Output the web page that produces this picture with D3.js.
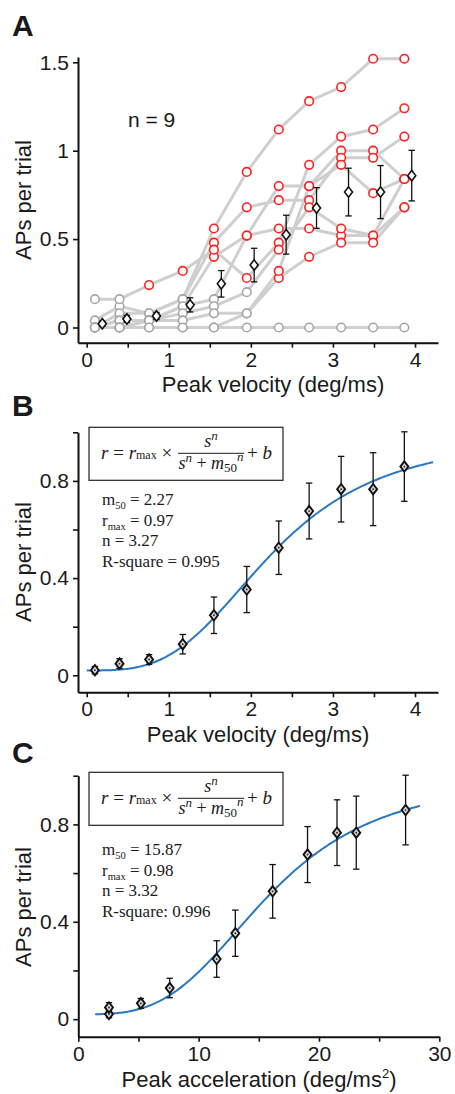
<!DOCTYPE html>
<html>
<head>
<meta charset="utf-8">
<script src="https://cdn.jsdelivr.net/npm/d3@7"></script>
<style>
body { margin: 0; background: #fff; }
svg text { font-family: "Liberation Sans", Arial, sans-serif; fill: #1a1a1a; }
svg text.serif { font-family: "Liberation Serif", "Times New Roman", serif; }
</style>
</head>
<body>
<svg id="fig" width="455" height="1094"></svg>
<script>
// stimulus peak velocities (deg/ms), one per column
const velocities = [0.10, 0.40, 0.76, 1.17, 1.55, 1.95, 2.34, 2.71, 3.10, 3.49, 3.87];
// matching peak accelerations (deg/ms^2)
const accelerations = [2.55, 2.55, 5.2, 7.6, 11.5, 13.05, 16.15, 19.05, 21.5, 23.1, 27.2];

// APs per trial for each of the 9 cells
const cell1 = [0.04, 0.12, 0.08, 0.16, 0.56, 0.88, 1.12, 1.28, 1.36, 1.52, 1.52];
const cell2 = [0, 0.04, 0.04, 0.12, 0.40, 0.52, 0.80, 0.80, 1.00, 1.00, 0.84];
const cell3 = [0, 0.08, 0.08, 0.16, 0.48, 0.68, 0.72, 0.72, 0.96, 0.96, 1.08];
const cell4 = [0.16, 0.16, 0.24, 0.32, 0.44, 0.28, 0.48, 0.92, 1.08, 1.12, 1.24];
const cell5 = [0, 0.04, 0.04, 0.12, 0.16, 0.52, 0.56, 0.56, 0.52, 0.52, 0.68];
const cell6 = [0, 0, 0.04, 0.08, 0.12, 0.20, 0.44, 0.68, 0.56, 0.52, 0.84];
const cell7 = [0, 0, 0, 0, 0, 0.08, 0.28, 0.40, 0.48, 0.48, 0.68];
const cell8 = [0, 0, 0.04, 0.04, 0.08, 0.08, 0.32, 0.80, 0.92, 0.76, 0.84];
const cell9 = [0, 0, 0, 0, 0, 0, 0, 0, 0, 0, 0];
const cells = [cell1, cell2, cell3, cell4, cell5, cell6, cell7, cell8, cell9];

// population mean and SEM
const meanRate = [0.021, 0.048, 0.065, 0.128, 0.247, 0.353, 0.525, 0.676, 0.766, 0.766, 0.859];
const semRate = [0.015, 0.02, 0.02, 0.04, 0.075, 0.095, 0.11, 0.115, 0.135, 0.15, 0.143];

// fit parameters [m50, rmax, n, b]
const fitVelocity = [2.27, 0.97, 3.27, 0.02];
const fitAcceleration = [15.87, 0.98, 3.32, 0.02];
const statsVelocity = ["2.27", "0.97", "3.27", "R-square = 0.995"];
const statsAcceleration = ["15.87", "0.98", "3.32", "R-square: 0.996"];

const velTicks = [0, 0.5, 1, 1.5, 2, 2.5, 3, 3.5, 4];
const accTicks = [0, 5, 10, 15, 20, 25, 30];
const rateTicksA = [0, 0.5, 1, 1.5];
const rateTicksB = [0, 0.2, 0.4, 0.6, 0.8, 1.0];
const rateLabelsB = [0, 0.4, 0.8];

const svg = d3.select("#fig");
const diamond = "M0,-5.2L4,0L0,5.2L-4,0Z";

function drawAxes(g, x, y, xTicks, xLabel, yTicks, yLabel) {
    const xAxis = d3.axisBottom(x)
        .tickValues(xTicks)
        .tickFormat(d => xLabel(d) ? String(d) : "")
        .tickSize(5).tickPadding(4).tickSizeOuter(0);
    const yAxis = d3.axisLeft(y)
        .tickValues(yTicks)
        .tickFormat(d => yLabel(d) ? String(d) : "")
        .tickSize(5).tickPadding(4).tickSizeOuter(0);

    const gx = g.append("g")
        .attr("transform", "translate(0," + y.range()[0] + ")")
        .call(xAxis);
    const gy = g.append("g")
        .attr("transform", "translate(" + x.range()[0] + ",0)")
        .call(yAxis);

    [gx, gy].forEach(a => {
        a.attr("font-size", null).attr("font-family", null);
        a.select(".domain").attr("stroke", "#111").attr("stroke-width", 2);
        a.selectAll(".tick line").attr("stroke", "#111").attr("stroke-width", 1.6);
        a.selectAll(".tick text").style("font-size", "21px").attr("fill", "#1a1a1a");
        a.selectAll(".tick text").filter(function () { return this.textContent === ""; }).remove();
    });
}

function yTitle(g, cy) {
    g.append("text")
        .attr("transform", "translate(31," + cy + ") rotate(-90)")
        .attr("text-anchor", "middle")
        .style("font-size", "22px")
        .text("APs per trial");
}

function panelLabel(text, y) {
    svg.append("text")
        .attr("x", 12).attr("y", y)
        .style("font-size", "30px").style("font-weight", "bold")
        .text(text);
}

function drawMeans(g, x, y, xs, dx, fill) {
    const pts = meanRate.map((m, i) => ({ x: xs[i] + dx, m: m, e: semRate[i] }));
    const bars = g.append("g").attr("stroke", "#111").attr("stroke-width", 1.3);
    pts.forEach(p => {
        const px = x(p.x);
        bars.append("line").attr("x1", px).attr("x2", px).attr("y1", y(p.m - p.e)).attr("y2", y(p.m + p.e));
        bars.append("line").attr("x1", px - 3.2).attr("x2", px + 3.2).attr("y1", y(p.m - p.e)).attr("y2", y(p.m - p.e));
        bars.append("line").attr("x1", px - 3.2).attr("x2", px + 3.2).attr("y1", y(p.m + p.e)).attr("y2", y(p.m + p.e));
    });
    g.append("g").selectAll("path")
        .data(pts)
        .join("path")
        .attr("d", diamond)
        .attr("transform", p => "translate(" + x(p.x) + "," + y(p.m) + ")")
        .attr("fill", fill)
        .attr("stroke", "#111")
        .attr("stroke-width", fill === "#fff" ? 1.6 : 1.9);
    if (fill !== "#fff") {
        g.append("g").selectAll("circle")
            .data(pts)
            .join("circle")
            .attr("cx", p => x(p.x)).attr("cy", p => y(p.m))
            .attr("r", 0.9).attr("fill", "#222");
    }
}

function drawFit(g, x, y, params, domain, stats, boxY, statsY) {
    const [m50, rmax, n, b] = params;
    const s = d3.range(domain[0], domain[1] + 0.001, (domain[1] - domain[0]) / 200);
    const line = d3.line().x(d => x(d)).y(d => y(rmax * Math.pow(d, n) / (Math.pow(d, n) + Math.pow(m50, n)) + b));
    g.append("path")
        .datum(s)
        .attr("fill", "none")
        .attr("stroke", "#2a78c2")
        .attr("stroke-width", 2)
        .attr("d", line);

    // formula box
    const bx = 89, bw = 194, bh = 53;
    g.append("rect")
        .attr("x", bx).attr("y", boxY).attr("width", bw).attr("height", bh)
        .attr("fill", "#fff").attr("stroke", "#222").attr("stroke-width", 1.2);

    const f = g.append("g").attr("class", "formula");
    const main = f.append("text").attr("class", "serif")
        .attr("x", bx + 12).attr("y", boxY + 32)
        .style("font-size", "19px");
    main.append("tspan").style("font-style", "italic").text("r");
    main.append("tspan").text(" = ");
    main.append("tspan").style("font-style", "italic").text("r");
    main.append("tspan").style("font-size", "12px").text("max");
    main.append("tspan").text(" ×");

    const fx = bx + 122;
    const num = f.append("text").attr("class", "serif")
        .attr("x", fx).attr("y", boxY + 20).attr("text-anchor", "middle")
        .style("font-size", "18px");
    num.append("tspan").style("font-style", "italic").text("s");
    num.append("tspan").style("font-style", "italic").style("font-size", "13px").attr("dy", -7).text("n");

    f.append("line")
        .attr("x1", bx + 89).attr("x2", bx + 155)
        .attr("y1", boxY + 26).attr("y2", boxY + 26)
        .attr("stroke", "#1a1a1a").attr("stroke-width", 1);

    const den = f.append("text").attr("class", "serif")
        .attr("x", fx).attr("y", boxY + 42).attr("text-anchor", "middle")
        .style("font-size", "18px");
    den.append("tspan").style("font-style", "italic").text("s");
    den.append("tspan").style("font-style", "italic").style("font-size", "13px").attr("dy", -7).text("n");
    den.append("tspan").attr("dy", 7).text(" + ");
    den.append("tspan").style("font-style", "italic").text("m");
    den.append("tspan").style("font-size", "13px").attr("dy", 3).text("50");
    den.append("tspan").style("font-style", "italic").style("font-size", "13px").attr("dy", -11).text("n");

    const tail = f.append("text").attr("class", "serif")
        .attr("x", bx + 158).attr("y", boxY + 32)
        .style("font-size", "19px");
    tail.append("tspan").text("+ ");
    tail.append("tspan").style("font-style", "italic").text("b");

    // parameter lines
    const lh = 20.5;
    const fs = "17px";
    const t1 = g.append("text").attr("class", "serif").attr("x", 102).attr("y", statsY).style("font-size", fs);
    t1.append("tspan").text("m");
    t1.append("tspan").style("font-size", "10.5px").attr("dy", 4).text("50");
    t1.append("tspan").attr("dy", -4).text(" = " + stats[0]);
    const t2 = g.append("text").attr("class", "serif").attr("x", 102).attr("y", statsY + lh).style("font-size", fs);
    t2.append("tspan").text("r");
    t2.append("tspan").style("font-size", "10.5px").attr("dy", 4).text("max");
    t2.append("tspan").attr("dy", -4).text(" = " + stats[1]);
    g.append("text").attr("class", "serif").attr("x", 102).attr("y", statsY + 2 * lh).style("font-size", fs)
        .text("n = " + stats[2]);
    g.append("text").attr("class", "serif").attr("x", 102).attr("y", statsY + 3 * lh).style("font-size", fs)
        .text(stats[3]);
}

// ---------- Panel A ----------
const gA = svg.append("g");
const xA = d3.scaleLinear().domain([-0.106, 4.28]).range([78, 438]);
const yA = d3.scaleLinear().domain([-0.086, 1.53]).range([342.7, 57]);

const cellLine = d3.line().x((d, i) => xA(velocities[i])).y(d => yA(d));
gA.append("g").selectAll("path")
    .data(cells)
    .join("path")
    .attr("d", cellLine)
    .attr("fill", "none")
    .attr("stroke", "#cfcfcf")
    .attr("stroke-width", 3)
    .attr("stroke-linejoin", "round");

const cellPts = [];
cells.forEach(c => c.forEach((v, i) => cellPts.push({ x: velocities[i], v: v })));
cellPts.sort((a, b) => (a.v > 0.22) - (b.v > 0.22));
gA.append("g").selectAll("circle")
    .data(cellPts)
    .join("circle")
    .attr("cx", d => xA(d.x))
    .attr("cy", d => yA(d.v))
    .attr("r", 4.3)
    .attr("fill", "#fff")
    .attr("stroke", d => d.v > 0.22 ? "#ff2020" : "#a6a6a6")
    .attr("stroke-width", 1.6);

drawMeans(gA, xA, yA, velocities, 0.09, "#fff");
drawAxes(gA, xA, yA, velTicks, d => Number.isInteger(d), rateTicksA, d => true);
yTitle(gA, 200);
gA.append("text").attr("x", 273).attr("y", 392).attr("text-anchor", "middle")
    .style("font-size", "22px").text("Peak velocity (deg/ms)");
gA.append("text").attr("x", 128).attr("y", 127).style("font-size", "21px").text("n = 9");
panelLabel("A", 36);

// ---------- Panel B ----------
const gB = svg.append("g");
const xB = d3.scaleLinear().domain([-0.106, 4.28]).range([78, 438]);
const yB = d3.scaleLinear().domain([-0.07, 1.0]).range([692.3, 432.3]);
drawFit(gB, xB, yB, fitVelocity, [0, 4.22], statsVelocity, 427.3, 505);
drawMeans(gB, xB, yB, velocities, 0, "#d4d4d4");
drawAxes(gB, xB, yB, velTicks, d => Number.isInteger(d), rateTicksB, d => rateLabelsB.includes(d));
yTitle(gB, 562);
gB.append("text").attr("x", 258).attr("y", 742).attr("text-anchor", "middle")
    .style("font-size", "22px").text("Peak velocity (deg/ms)");
panelLabel("B", 416);

// ---------- Panel C ----------
const gC = svg.append("g");
const xC = d3.scaleLinear().domain([0, 30]).range([78.3, 439.3]);
const yC = d3.scaleLinear().domain([-0.072, 1.0]).range([1036.7, 775.7]);
drawFit(gC, xC, yC, fitAcceleration, [1.4, 28.4], statsAcceleration, 772.3, 855);
drawMeans(gC, xC, yC, accelerations, 0, "#d4d4d4");
drawAxes(gC, xC, yC, accTicks, d => d % 10 === 0, rateTicksB, d => rateLabelsB.includes(d));
yTitle(gC, 907);
const tC = gC.append("text").attr("x", 259).attr("y", 1087).attr("text-anchor", "middle")
    .style("font-size", "22px");
tC.append("tspan").text("Peak acceleration (deg/ms");
tC.append("tspan").style("font-size", "13px").attr("dy", -9).text("2");
tC.append("tspan").attr("dy", 9).text(")");
panelLabel("C", 763);
</script>
</body>
</html>
